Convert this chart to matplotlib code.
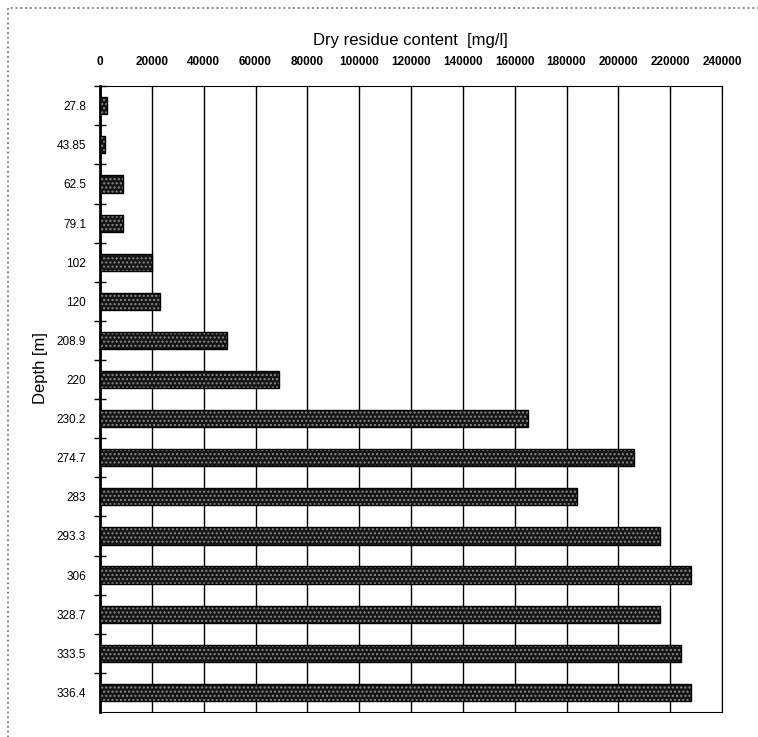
import matplotlib.pyplot as plt
from matplotlib.patches import Rectangle
from matplotlib.ticker import FixedLocator

depths = ['27.8', '43.85', '62.5', '79.1', '102', '120', '208.9', '220', '230.2',
          '274.7', '283', '293.3', '306', '328.7', '333.5', '336.4']
residue = [2500, 2000, 9000, 9000, 20000, 23000, 49000, 69000, 165000,
           206000, 184000, 216000, 228000, 216000, 224000, 228000]
xticks = list(range(0, 240001, 20000))

plt.rcParams['font.family'] = ['Liberation Sans', 'DejaVu Sans']

fig = plt.figure(figsize=(7.58, 7.37), dpi=100)
ax = fig.add_axes([0.132, 0.034, 0.8205, 0.849])

pos = list(range(len(depths)))
# stippled dark fill, then a black outline
ax.barh(pos, residue, height=0.44, color='#151515', edgecolor='#8a8a8a',
        hatch='....', linewidth=0, zorder=3)
ax.barh(pos, residue, height=0.44, fill=False, edgecolor='black', linewidth=1, zorder=4)

ax.set_ylim(len(depths) - 0.5, -0.5)
ax.set_xlim(0, 240000)
ax.set_yticks(pos)
ax.set_yticklabels(depths)
ax.yaxis.set_minor_locator(FixedLocator([p + 0.5 for p in pos[:-1]] + [-0.5]))
ax.tick_params(axis='y', which='major', length=0, pad=10, labelsize=8.5)
ax.tick_params(axis='y', which='minor', length=8, width=1, direction='inout')

ax.xaxis.tick_top()
ax.set_xticks(xticks)
ax.set_xticklabels([str(v) for v in xticks], fontweight='bold')
ax.tick_params(axis='x', length=4, direction='in', pad=13, labelsize=8.5)
ax.grid(axis='x', color='black', linewidth=1, zorder=1)

ax.spines['left'].set_linewidth(2)
for s in ['top', 'right', 'bottom']:
    ax.spines[s].set_linewidth(0.8)

fig.text(0.542, 0.945, 'Dry residue content  [mg/l]', ha='center', va='center', fontsize=12)
fig.text(0.053, 0.50, 'Depth [m]', ha='center', va='center', rotation=90, fontsize=12)

# outer frame, running off the right and bottom edges
fig.patches.append(Rectangle((0.010, -0.05), 1.05, 1.039, transform=fig.transFigure,
                             fill=False, edgecolor='#777777', linewidth=1.3, linestyle=':'))

fig.savefig('out.png', dpi=100)
